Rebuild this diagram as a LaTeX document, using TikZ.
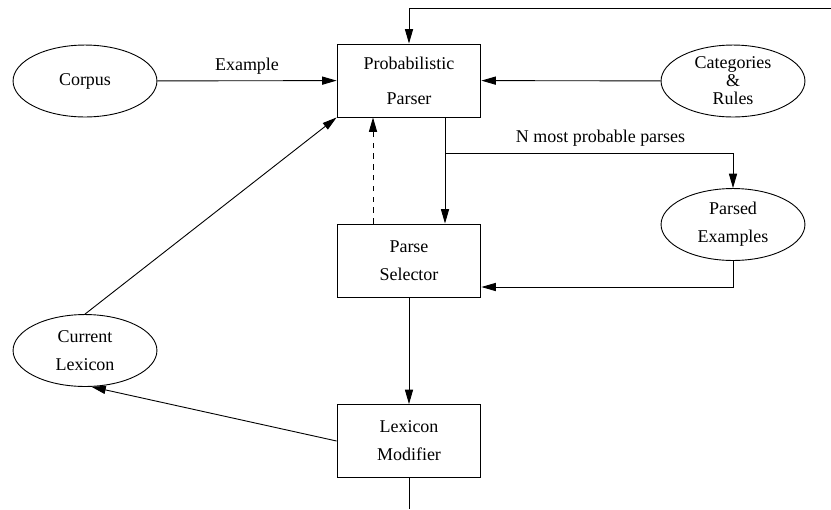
\documentclass[tikz,border=0pt]{standalone}
\usepackage{fontspec}
\setmainfont{Liberation Serif}
\usepackage{tikz}
\usetikzlibrary{shapes,arrows,arrows.meta,positioning,calc}

\tikzset{
    procbox/.style={rectangle,draw,line width=0.5pt,minimum width=80pt,minimum height=40.6pt,align=center,font=\fontsize{10}{15.6}\selectfont},
    store/.style={ellipse,draw,line width=0.5pt,minimum width=80pt,minimum height=40pt,inner sep=0pt,align=center,font=\fontsize{10}{15.6}\selectfont},
    arr/.style={line width=0.5pt,-{Triangle[length=8pt,width=4.5pt]}},
    plain/.style={line width=0.5pt}
}

\begin{document}
\begin{tikzpicture}[x=0.556pt,y=-0.556pt]
        \useasboundingbox (0,0) rectangle (831,509);

        % Processing boxes
        \node[procbox] (parser) at (409,80.5) {Probabilistic\\[4pt]Parser};
        \node[procbox] (selector) at (409,260.5) {Parse\\Selector};
        \node[procbox] (modifier) at (409,441) {Lexicon\\Modifier};

        % Data stores
        \node[store] (corpus) at (85,81) {Corpus};
        \node[store,font=\fontsize{10}{10}\selectfont] (catrules) at (733,81) {Categories\\\&\\Rules};
        \node[store] (parsed) at (733,224.5) {Parsed\\Examples};
        \node[store] (lexicon) at (85,350.5) {Current\\Lexicon};

        % Loose ends
        \coordinate (loopin) at (831,8);
        \coordinate (exit) at (409,509);
        \coordinate (branch) at (445,153);

        % Connectors
        \draw[arr] (corpus) -- node[above] {Example} (parser);
        \draw[arr] (catrules) -- (parser);
        \draw[arr] (loopin) -| (parser.north);
        \draw[arr] ($(parser.south)+(36,0)$) -- ($(selector.north)+(36,0)$);
        \draw[arr] (branch) -| node[pos=0.27,above] {N most probable parses} (parsed.north);
        \draw[arr,dashed] ($(selector.north)+(-36,0)$) -- ($(parser.south)+(-36,0)$);
        \draw[arr] (parsed.south) |- ($(selector.east)+(0,26.5)$);
        \draw[arr] (selector) -- (modifier);
        \draw[arr] (modifier.west) -- (lexicon.280);
        \draw[arr] (lexicon.north) -- (parser.south west);
        \draw[plain] (modifier.south) -- (exit);
    \end{tikzpicture}
\end{document}
